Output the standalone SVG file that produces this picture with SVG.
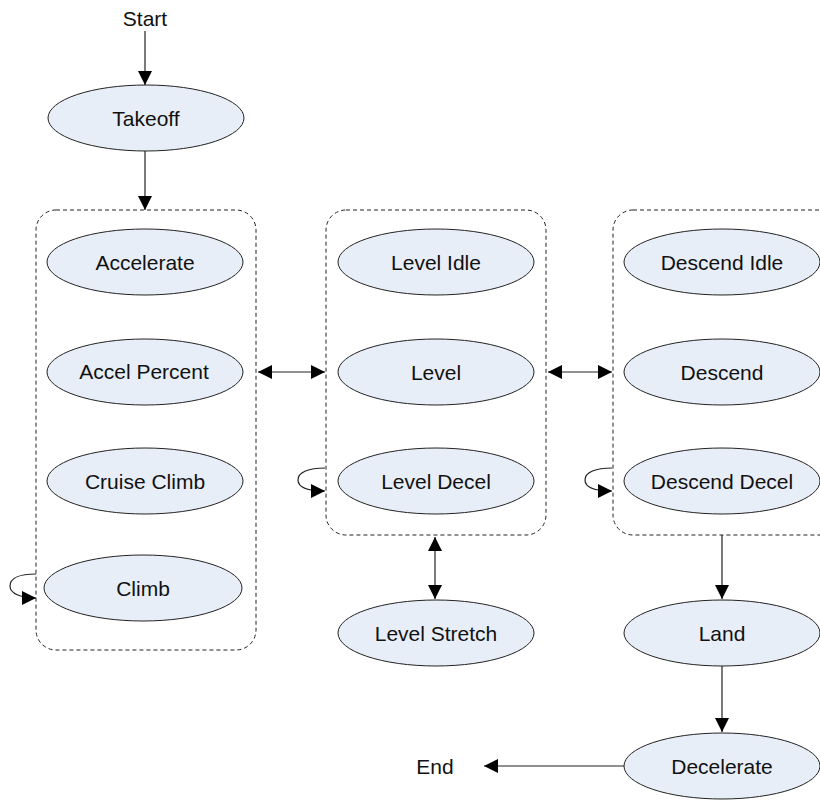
<svg xmlns="http://www.w3.org/2000/svg" width="820" height="801" viewBox="0 0 820 801">
<defs>
<style>
.n ellipse{fill:#e8eef8;stroke:#222;stroke-width:1}
.t{font-family:"Liberation Sans",Arial,sans-serif;font-size:21px;fill:#111;text-anchor:middle;dominant-baseline:central}
.grp{fill:none;stroke:#222;stroke-width:1;stroke-dasharray:4 3}
.c{fill:none;stroke:#222;stroke-width:1.2}
</style>
<marker id="ah" viewBox="0 0 10 10" refX="10" refY="5" markerWidth="14" markerHeight="14" markerUnits="userSpaceOnUse" orient="auto-start-reverse">
<path d="M0,0 L10,5 L0,10 z" fill="#000"/>
</marker>
</defs>
<rect width="820" height="801" fill="#fff"/>
<g id="containers">
<rect class="grp" x="36" y="210" width="220" height="440" rx="20"/>
<rect class="grp" x="326" y="210" width="220" height="325" rx="20"/>
<rect class="grp" x="613" y="210" width="230" height="325" rx="20"/>
</g>
<g id="connectors">
<path class="c" d="M145,31 L145,85" marker-end="url(#ah)"/>
<path class="c" d="M145,151 L145,210" marker-end="url(#ah)"/>
<path class="c" d="M258,372 L325,372" marker-start="url(#ah)" marker-end="url(#ah)"/>
<path class="c" d="M548,372 L612,372" marker-start="url(#ah)" marker-end="url(#ah)"/>
<path class="c" d="M435,537 L435,599" marker-start="url(#ah)" marker-end="url(#ah)"/>
<path class="c" d="M722,535 L722,599" marker-end="url(#ah)"/>
<path class="c" d="M722,666 L722,732" marker-end="url(#ah)"/>
<path class="c" d="M624,766 L484,766" marker-end="url(#ah)"/>
<path class="c" d="M36,574 C20,574 10,578 10,586 C10,594 22,598 36,598" marker-end="url(#ah)"/>
<path class="c" d="M325,468 C309,468 298,472 298,480 C298,488 310,491 325,491" marker-end="url(#ah)"/>
<path class="c" d="M612,468 C596,468 585,472 585,480 C585,488 597,491 612,491" marker-end="url(#ah)"/>
</g>
<g id="start"><text class="t" x="145" y="18">Start</text></g>
<g id="end"><text class="t" x="435" y="766">End</text></g>
<g id="takeoff" class="n"><ellipse cx="146" cy="118" rx="98" ry="33"/><text class="t" x="146" y="118">Takeoff</text></g>
<g id="accelerate" class="n"><ellipse cx="145" cy="262" rx="98" ry="33"/><text class="t" x="145" y="262">Accelerate</text></g>
<g id="accel-percent" class="n"><ellipse cx="145" cy="372" rx="98" ry="33"/><text class="t" x="144" y="371">Accel Percent</text></g>
<g id="cruise-climb" class="n"><ellipse cx="145" cy="481" rx="98" ry="33"/><text class="t" x="145" y="481">Cruise Climb</text></g>
<g id="climb" class="n"><ellipse cx="143" cy="588" rx="99" ry="33"/><text class="t" x="143" y="588">Climb</text></g>
<g id="level-idle" class="n"><ellipse cx="436" cy="262" rx="98" ry="33"/><text class="t" x="436" y="262">Level Idle</text></g>
<g id="level" class="n"><ellipse cx="436" cy="372" rx="98" ry="33"/><text class="t" x="436" y="372">Level</text></g>
<g id="level-decel" class="n"><ellipse cx="436" cy="481" rx="98" ry="33"/><text class="t" x="436" y="481">Level Decel</text></g>
<g id="level-stretch" class="n"><ellipse cx="436" cy="633" rx="98" ry="33"/><text class="t" x="436" y="633">Level Stretch</text></g>
<g id="descend-idle" class="n"><ellipse cx="722" cy="262" rx="98" ry="33"/><text class="t" x="722" y="262">Descend Idle</text></g>
<g id="descend" class="n"><ellipse cx="722" cy="372" rx="98" ry="33"/><text class="t" x="722" y="372">Descend</text></g>
<g id="descend-decel" class="n"><ellipse cx="722" cy="481" rx="98" ry="33"/><text class="t" x="722" y="481">Descend Decel</text></g>
<g id="land" class="n"><ellipse cx="722" cy="633" rx="98" ry="33"/><text class="t" x="722" y="633">Land</text></g>
<g id="decelerate" class="n"><ellipse cx="722" cy="766" rx="98" ry="33"/><text class="t" x="722" y="766">Decelerate</text></g>
</svg>
